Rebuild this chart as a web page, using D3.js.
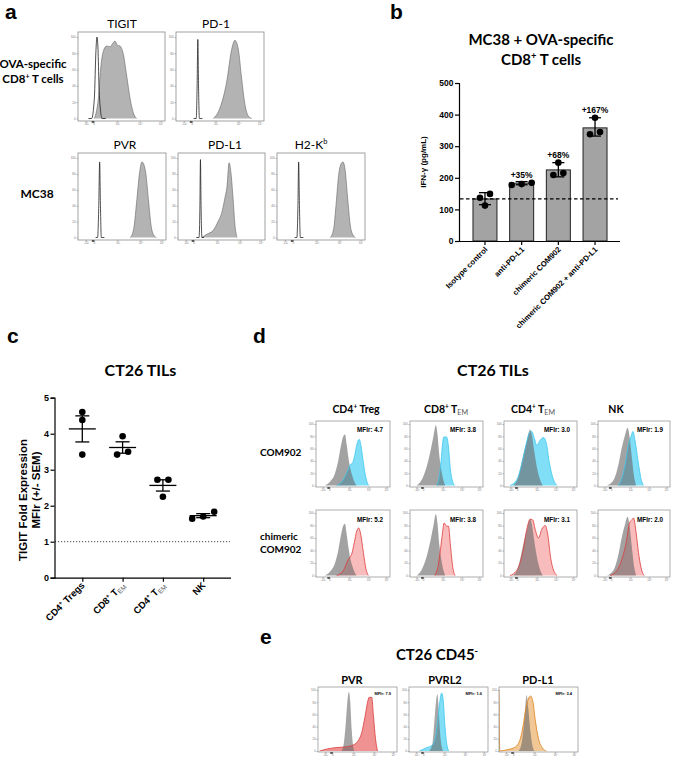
<!DOCTYPE html>
<html><head><meta charset="utf-8">
<script src="https://cdn.jsdelivr.net/npm/d3@7"></script>
<style>body{margin:0;background:#fff} svg{display:block}</style>
</head><body>
<svg id="fig" width="677" height="761"></svg>
<script>
// ================= DATA =================
// shared flow-histogram axis (positions in % of plot width, labels)
const histTickPos = [9, 18, 45, 71, 95];
const histTickLabels = ["-10³", "0", "10³", "10⁴", "10⁵"];
const histYTicks = [0, 20, 40, 60, 80, 100];

// Panel a: [x% , count%]
const aRow1Markers = ["TIGIT", "PD-1"];
const aRow2Markers = ["PVR", "PD-L1", "H2-K"];
const aTigitIso = [[12,0],[15.7,0],[18.8,25],[20.7,85],[21.8,100],[23,85],[24.1,41],[26,9],[27.6,0],[32,0]];
const aTigitStain = [[18.8,0],[23.4,25],[26.4,65],[29.9,85],[33,89],[36.8,88],[39.8,92],[42.5,95],[45.2,90],[48.3,89],[52.1,79],[55.9,53],[59.8,25],[63.6,7],[67.4,0]];
const aPd1Iso = [[20,0],[23,0],[24,40],[24.8,97],[25.6,40],[26.6,0],[30,0]];
const aPd1Stain = [[42.4,0],[50,13],[57.6,45],[63.3,85],[67,96],[70.8,85],[74.6,49],[78.4,17],[82.2,3],[86,0]];
const aPvrIso = [[20,0],[22.3,0],[23.6,40],[24.6,95],[25.5,40],[26.5,0],[30,0]];
const aPvrStain = [[59.5,0],[63.3,11],[67,49],[70,82],[72.7,95],[74.6,92.5],[76.9,82],[80.3,44.6],[83,15.4],[86,3],[89,0]];
const aPdl1Iso = [[21,0],[24.2,0],[25.2,40],[25.8,98],[26.5,40],[27.5,0],[30,0]];
const aPdl1Stain = [[27.3,0],[33,4],[40.5,9],[46,20],[50,30],[53.8,49],[56.4,65],[58.7,94],[61,80],[63.3,49],[65.5,15],[67.8,0]];
const aH2kbIso = [[20,0],[22.6,0],[23.8,40],[24.6,95],[25.5,40],[26.5,0],[30,0]];
const aH2kbStain = [[60.6,0],[64.4,11],[67.4,45],[70,78],[72.7,92.5],[75,95],[77.3,86],[80.3,49],[83.3,15],[86.4,3],[89,0]];

// Panel b
const bCategories = ["Isotype control", "anti-PD-L1", "chimeric COM902", "chimeric COM902 + anti-PD-L1"];
const bMeans = [133, 183, 225, 358];
const bErrLow = [115, 178, 203, 332];
const bErrHigh = [153, 188, 248, 390];
const bPoints = [[149, 112, 137], [177, 184, 180], [248, 209, 215], [390, 338, 345]];
const bLabels = ["", "+35%", "+68%", "+167%"];
const bLabelY = [0, 199, 262, 405];
const bYTicks = [0, 100, 200, 300, 400, 500];

// Panel c
const cCategories = ["CD4+ Tregs", "CD8+ TEM", "CD4+ TEM", "NK"];
const cValues = [[4.6, 4.38, 3.42], [3.93, 3.42, 3.5], [2.72, 2.72, 2.25], [1.83, 1.64, 1.7]];
const cYTicks = [0, 1, 2, 3, 4, 5];
const cRef = 1;

// Panel d
const dColumns = ["CD4+ Treg", "CD8+ TEM", "CD4+ TEM", "NK"];
const dRows = ["COM902", "chimeric COM902"];
const dMfiCom = [4.7, 3.8, 3.0, 1.9];
const dMfiChim = [5.2, 3.8, 3.1, 2.0];
const dGrayTreg = [[12.2,0],[18.9,6],[25.7,20],[30.2,41],[33.3,62],[36.9,80],[39.2,83],[41.4,67],[43.7,46],[45.9,30],[49.5,14],[52.7,4],[55,0]];
const dGrayCD8 = [[9,0],[15.9,9],[22.7,30],[28.2,57],[31.8,78],[35.5,98],[37.7,83],[40,51],[43,25],[46.4,6],[48.2,0]];
const dGrayCD4 = [[12.8,0],[19.7,14],[25.7,46],[31.2,72],[35.8,91],[38,83],[41.3,57],[45,30],[49.5,9],[53.2,0]];
const dGrayNK = [[12.4,0],[21.7,9],[28.6,35],[33.2,62],[37.8,83],[41,94],[43.8,80],[47,46],[50.2,14],[53,0]];
const dCyanTreg = [[27.9,0],[34.7,6],[41.4,20],[45.9,33],[49.5,37],[52.7,51],[55.9,70],[58.6,75],[60.4,67],[63,46],[66.2,20],[69.4,4],[71.2,0]];
const dCyanCD8 = [[36.4,0],[40,14],[42.7,41],[44.5,67],[46.4,79],[50,79],[52.3,67],[55.5,25],[59,4],[61.4,0]];
const dCyanCD4 = [[8.3,0],[17.4,9],[24.3,35],[30.3,67],[34.9,86],[38,88],[41.3,78],[45,65],[48.6,72],[54,78],[57.8,70],[62.4,35],[67.9,9],[72.5,0]];
const dCyanNK = [[28.6,0],[33.2,12],[37.8,35],[42.4,67],[46,80],[48.4,88],[51.6,72],[56.2,35],[60.8,6],[63.1,0]];
const dPinkTreg = [[27.9,0],[37,8],[43.7,26],[48.2,34],[51.8,53],[55,71],[57.7,76],[60.4,66],[64,37],[67.6,10],[70.7,0]];
const dPinkCD8 = [[34,0],[38.6,16],[41.8,42],[44.5,68],[46.8,84],[50,79],[52.7,79],[55.5,47],[59,10],[61.8,0]];
const dPinkCD4 = [[8.3,0],[17.4,8],[25.7,37],[31.2,74],[35.8,90],[39.4,89],[42.7,74],[47.2,60],[51.8,74],[56.4,80],[59.6,68],[64.2,26],[70.2,3],[72.5,0]];
const dPinkNK = [[17,0],[26.3,8],[33.2,26],[39.2,53],[43.8,84],[47,89],[49.3,92],[53,68],[56.2,37],[60.8,8],[64,0]];

// Panel e
const eColumns = ["PVR", "PVRL2", "PD-L1"];
const eMfi = [7.9, 1.6, 3.4];
const ePvrIso = [[29.8,0],[32.8,14],[35.3,47],[37.4,84],[39.1,97],[40.9,79],[42.6,36],[44.7,6],[46,0]];
const ePvrStain = [[2,0],[10.6,3],[19.1,5],[27.7,6],[36.2,7],[44.7,10],[51,17],[55.3,30],[59.6,57],[62.6,79],[64.7,88],[68,88],[70.2,57],[72.8,20],[75.3,0]];
const ePvrl2Iso = [[25.6,0],[29.8,13],[32.2,50],[34.7,87],[36,93],[37.2,77],[38.8,40],[41.3,8],[43,0]];
const ePvrl2Stain = [[13.2,0],[21.5,5],[29.8,10],[33.9,26],[37.2,60],[39.7,87],[41.3,95],[43.4,82],[45.5,40],[48.3,8],[50.4,0]];
const ePdl1Iso = [[25,0],[29,15],[32,50],[35,92],[37,70],[40,30],[43,5],[45,0]];
const ePdl1Stain = [[0,100],[1,0],[10,2],[20,6],[27,20],[31,45],[34,70],[37,85],[40,90],[43,80],[46,50],[50,20],[55,5],[60,0]];

// ================= DRAWING =================
const AR = "'Liberation Sans', Arial, sans-serif";
const CA = "Lato, 'Open Sans', sans-serif";
const svg = d3.select('#fig');
let clipN = 0;

function rich(sel, parts, size) {
  let shift = 0;
  parts.forEach(p => {
    const ts = sel.append('tspan').text(p.t);
    let target = 0;
    if (p.sup) { ts.attr('font-size', size * 0.62); target = -size * 0.38; }
    else if (p.sub) { ts.attr('font-size', size * 0.68); target = size * 0.2; }
    if (p.fill) ts.attr('fill', p.fill);
    if (p.w) ts.attr('font-weight', p.w);
    const dy = target - shift;
    if (dy) ts.attr('dy', dy);
    shift = target;
  });
  return sel;
}
function txt(x, y, s, size, opts = {}) {
  const t = svg.append('text').attr('x', x).attr('y', y)
    .attr('font-family', opts.ff || CA).attr('font-size', size)
    .attr('font-weight', opts.w || 'bold').attr('text-anchor', opts.a || 'middle')
    .attr('fill', opts.fill || '#000');
  if (typeof s === 'string') t.text(s); else rich(t, s, size);
  if (opts.rot) t.attr('transform', `rotate(${opts.rot},${x},${y})`);
  return t;
}
function labelParts(name) {
  const m = name.match(/^(CD\d)\+ (.*)$/);
  if (!m) return [{t: name}];
  const rest = m[2];
  const parts = [{t: m[1]}, {t: '+', sup: true}];
  if (rest.endsWith('EM')) parts.push({t: ' ' + rest.slice(0, -2)}, {t: 'EM', sub: true, w: 'normal', fill: '#555'});
  else parts.push({t: ' ' + rest});
  return parts;
}

function hist(box, curves, o) {
  const [x0, y0, w, h] = box;
  const g = svg.append('g');
  const xs = d3.scaleLinear().domain([0, 100]).range([x0, x0 + w]);
  const ys = d3.scaleLinear().domain([0, 100]).range([y0 + h - o.padB, y0 + o.padT]);
  const id = 'clip' + (clipN++);
  g.append('clipPath').attr('id', id).append('rect').attr('x', x0).attr('y', y0).attr('width', w).attr('height', h);
  const cg = g.append('g').attr('clip-path', `url(#${id})`);
  const area = d3.area().x(d => xs(d[0])).y0(ys(0)).y1(d => ys(d[1])).curve(d3.curveMonotoneX);
  const line = d3.line().x(d => xs(d[0])).y(d => ys(d[1])).curve(d3.curveMonotoneX);
  curves.forEach(c => {
    if (c.fill) cg.append('path').attr('d', area(c.data)).attr('fill', c.fill);
    if (c.stroke) cg.append('path').attr('d', line(c.data)).attr('fill', 'none')
      .attr('stroke', c.stroke).attr('stroke-width', c.sw || 0.8).attr('stroke-linejoin', 'round');
  });
  g.append('rect').attr('x', x0).attr('y', y0).attr('width', w).attr('height', h)
    .attr('fill', 'none').attr('stroke', o.border || '#8a8a8a').attr('stroke-width', 0.8);
  const ax = g.append('g').attr('transform', `translate(0,${y0 + h})`)
    .call(d3.axisBottom(xs).tickValues(histTickPos).tickFormat((d, i) => histTickLabels[i]).tickSize(1.5).tickPadding(0.8));
  const ay = g.append('g').attr('transform', `translate(${x0},0)`)
    .call(d3.axisLeft(ys).tickValues(histYTicks).tickSize(1.5).tickPadding(0.8));
  [ax, ay].forEach(a => {
    a.select('.domain').remove();
    a.selectAll('line').attr('stroke', '#777').attr('stroke-width', 0.5);
    a.selectAll('text').attr('font-size', o.tf || 3).attr('font-family', AR).attr('fill', '#777');
  });
  g.append('rect').attr('x', xs(histTickPos[1]) - 2).attr('y', y0 + h + 0.3).attr('width', 2.5).attr('height', 1.4).attr('fill', '#222');
  if (o.mfi !== undefined) {
    g.append('text').attr('x', x0 + w - o.mfiR).attr('y', y0 + o.mfiY).attr('text-anchor', 'end')
      .attr('font-family', AR).attr('font-weight', 'bold').attr('font-size', o.mfiF)
      .text('MFIr: ' + d3.format('.1f')(o.mfi));
  }
  return g;
}

function dodge(ys, r, d) {
  const idx = ys.map((y, i) => i).sort((a, b) => ys[b] - ys[a]);
  const offs = ys.map(() => 0);
  let cluster = [idx[0]];
  const flush = () => {
    const n = cluster.length;
    cluster.forEach((k, j) => offs[k] = n === 1 ? 0 : (j - (n - 1) / 2) * d);
  };
  for (let k = 1; k < idx.length; k++) {
    const prev = cluster[cluster.length - 1];
    if (Math.abs(ys[idx[k]] - ys[prev]) < 2 * r) cluster.push(idx[k]);
    else { flush(); cluster = [idx[k]]; }
  }
  flush();
  return offs;
}

// ---------- panel letters ----------
[["a", 5, 19], ["b", 390, 19], ["c", 7, 343], ["d", 253, 343], ["e", 260, 644]].forEach(([l, x, y]) =>
  txt(x, y, l, 21, {ff: AR, a: 'start'}));

// ---------- panel a ----------
const aOpen = '#222', aFill = '#b3b3b3', aEdge = '#666';
const aSets1 = [[aTigitIso, aTigitStain], [aPd1Iso, aPd1Stain]];
const aBoxes1 = [[78, 32, 87, 89], [176, 32, 88, 89]];
const aTitleX1 = [122, 216];
aSets1.forEach((s, i) => {
  hist(aBoxes1[i], [{data: s[1], fill: aFill, stroke: aEdge, sw: 0.6}, {data: s[0], stroke: aOpen, sw: 0.8}], {padT: 5, padB: 2.5});
  txt(aTitleX1[i], 28, aRow1Markers[i], 12, {w: 'normal'});
});
const aSets2 = [[aPvrIso, aPvrStain], [aPdl1Iso, aPdl1Stain], [aH2kbIso, aH2kbStain]];
const aBoxes2 = [[78, 153, 88, 87], [178, 153, 87, 87], [277, 153, 88, 87]];
const aTitleX2 = [125, 225, 311];
aSets2.forEach((s, i) => {
  hist(aBoxes2[i], [{data: s[1], fill: aFill, stroke: aEdge, sw: 0.6}, {data: s[0], stroke: aOpen, sw: 0.8}], {padT: 5, padB: 2.5});
  txt(aTitleX2[i], 149, i === 2 ? [{t: aRow2Markers[i]}, {t: 'b', sup: true}] : aRow2Markers[i], 12, {w: 'normal'});
});
txt(33, 68, "OVA-specific", 11.5);
txt(33, 83, [{t: "CD8"}, {t: "+", sup: true}, {t: " T cells"}], 11.5);
txt(37, 198, "MC38", 12);

// ---------- panel b ----------
{
  const yB = d3.scaleLinear().domain([0, 500]).range([241, 83]);
  const xB = d3.scaleBand().domain(bCategories).range([459, 621]).paddingInner(0.346).paddingOuter(0.381);
  const g = svg.append('g');
  txt(541, 45, "MC38 + OVA-specific", 15);
  txt(541, 65, [{t: "CD8"}, {t: "+", sup: true}, {t: " T cells"}], 15);
  g.selectAll('rect.bar').data(bCategories).join('rect').attr('class', 'bar')
    .attr('x', d => xB(d)).attr('width', xB.bandwidth())
    .attr('y', (d, i) => yB(bMeans[i])).attr('height', (d, i) => yB(0) - yB(bMeans[i]))
    .attr('fill', '#a3a3a3').attr('stroke', '#222').attr('stroke-width', 1);
  g.append('line').attr('x1', 460).attr('x2', 618).attr('y1', yB(bMeans[0])).attr('y2', yB(bMeans[0]))
    .attr('stroke', '#000').attr('stroke-width', 1.2).attr('stroke-dasharray', '3.5,2.5');
  bCategories.forEach((c, i) => {
    const cx = xB(c) + xB.bandwidth() / 2;
    g.append('line').attr('x1', cx).attr('x2', cx).attr('y1', yB(bErrLow[i])).attr('y2', yB(bErrHigh[i])).attr('stroke', '#000').attr('stroke-width', 1.3);
    [bErrLow[i], bErrHigh[i]].forEach(v => g.append('line').attr('x1', cx - 6).attr('x2', cx + 6).attr('y1', yB(v)).attr('y2', yB(v)).attr('stroke', '#000').attr('stroke-width', 1.3));
  });
  const r = 3.3;
  bCategories.forEach((c, i) => {
    const cx = xB(c) + xB.bandwidth() / 2;
    const offs = dodge(bPoints[i].map(v => yB(v)), r, 10);
    bPoints[i].forEach((v, j) => g.append('circle').attr('cx', cx + offs[j]).attr('cy', yB(v)).attr('r', r).attr('fill', '#000'));
    if (bLabels[i]) txt(cx, yB(bLabelY[i]), bLabels[i], 8.5, {ff: AR});
  });
  const ay = g.append('g').attr('transform', 'translate(459,0)').call(d3.axisLeft(yB).tickValues(bYTicks).tickSize(4).tickPadding(1.5));
  const ax = g.append('g').attr('transform', 'translate(0,241)').call(d3.axisBottom(xB).tickSize(4).tickFormat(''));
  [ax, ay].forEach(a => {
    a.selectAll('path,line').attr('stroke', '#000').attr('stroke-width', 1.2);
    a.selectAll('text').attr('font-family', AR).attr('font-weight', 'bold').attr('font-size', 8.5);
  });
  ax.select('.domain').attr('d', 'M459,0.5H620');
  bCategories.forEach(c => {
    const cx = xB(c) + xB.bandwidth() / 2;
    txt(cx + 3, 250, c, 7.7, {ff: AR, a: 'end', rot: -45});
  });
  txt(426, 162, "IFN-γ (pg/mL)", 8, {ff: AR, rot: -90});
}

// ---------- panel c ----------
{
  const yC = d3.scaleLinear().domain([0, 5]).range([577.7, 397.7]);
  const xC = d3.scalePoint().domain(cCategories).range([54.5, 231]).padding(0.69);
  const g = svg.append('g');
  txt(140.5, 376, "CT26 TILs", 16);
  g.append('line').attr('x1', 55).attr('x2', 230).attr('y1', yC(cRef)).attr('y2', yC(cRef))
    .attr('stroke', '#444').attr('stroke-width', 1).attr('stroke-dasharray', '1.2,1.8');
  const r = 3.3;
  cCategories.forEach((c, i) => {
    const cx = xC(c);
    const vals = cValues[i];
    const m = d3.mean(vals), sem = d3.deviation(vals) / Math.sqrt(vals.length);
    const offs = dodge(vals.map(v => yC(v)), r, 11);
    vals.forEach((v, j) => g.append('circle').attr('cx', cx + offs[j]).attr('cy', yC(v)).attr('r', r).attr('fill', '#000'));
    g.append('line').attr('x1', cx - 13.5).attr('x2', cx + 13.5).attr('y1', yC(m)).attr('y2', yC(m)).attr('stroke', '#000').attr('stroke-width', 1.3);
    g.append('line').attr('x1', cx).attr('x2', cx).attr('y1', yC(m - sem)).attr('y2', yC(m + sem)).attr('stroke', '#000').attr('stroke-width', 1.3);
    [m - sem, m + sem].forEach(v => g.append('line').attr('x1', cx - 7).attr('x2', cx + 7).attr('y1', yC(v)).attr('y2', yC(v)).attr('stroke', '#000').attr('stroke-width', 1.3));
    txt(cx + 3, 586, labelParts(c), 9.5, {ff: AR, a: 'end', rot: -45});
  });
  const ay = g.append('g').attr('transform', 'translate(54.5,0)').call(d3.axisLeft(yC).tickValues(cYTicks).tickFormat(d3.format('d')).tickSize(4).tickPadding(1.5));
  const ax = g.append('g').attr('transform', 'translate(0,577.7)').call(d3.axisBottom(xC).tickSize(4).tickFormat(''));
  [ax, ay].forEach(a => {
    a.selectAll('path,line').attr('stroke', '#000').attr('stroke-width', 1.2);
    a.selectAll('text').attr('font-family', AR).attr('font-weight', 'bold').attr('font-size', 9);
  });
  ax.select('.domain').attr('d', 'M54.5,0.5H231');
  txt(27, 500, "TIGIT Fold Expression", 11.5, {ff: AR, rot: -90});
  txt(39.5, 490, "MFIr (+/- SEM)", 11.5, {ff: AR, rot: -90});
}

// ---------- panel d ----------
{
  txt(493, 376, "CT26 TILs", 16);
  const colX = [316, 410, 504, 598], colW = [74, 73, 73, 72];
  const titleX = [356, 446, 533, 616];
  const grays = [dGrayTreg, dGrayCD8, dGrayCD4, dGrayNK];
  const cyans = [dCyanTreg, dCyanCD8, dCyanCD4, dCyanNK];
  const pinks = [dPinkTreg, dPinkCD8, dPinkCD4, dPinkNK];
  const grayFill = 'rgba(105,105,105,0.62)';
  dColumns.forEach((c, i) => {
    txt(titleX[i], 413, labelParts(c), 10.5);
    hist([colX[i], 421, colW[i], 66], [
      {data: cyans[i], fill: 'rgba(96,214,245,0.8)'},
      {data: grays[i], fill: grayFill},
      {data: cyans[i], stroke: '#3cc6ee', sw: 0.8}
    ], {padT: 3, padB: 1.5, border: '#999', tf: 3, mfi: dMfiCom[i], mfiR: 7, mfiY: 11, mfiF: 6.3});
    hist([colX[i], 510, colW[i], 67], [
      {data: pinks[i], fill: 'rgba(246,160,160,0.7)'},
      {data: grays[i], fill: grayFill},
      {data: pinks[i], stroke: '#e03a3a', sw: 0.8}
    ], {padT: 3, padB: 1.5, border: '#999', tf: 3, mfi: dMfiChim[i], mfiR: 7, mfiY: 11.5, mfiF: 6.3});
  });
  txt(260, 456, dRows[0], 10, {a: 'start'});
  txt(260, 540, "chimeric", 10, {a: 'start'});
  txt(260, 553, "COM902", 10, {a: 'start'});
}

// ---------- panel e ----------
{
  txt(437, 660, [{t: "CT26 CD45"}, {t: "-", sup: true}], 15);
  const colX = [318, 409, 499], titleX = [352, 445, 538];
  const sets = [
    [{data: ePvrStain, fill: 'rgba(236,110,110,0.75)'}, {data: ePvrIso, fill: 'rgba(105,105,105,0.6)'}, {data: ePvrStain, stroke: '#d63c3c', sw: 0.8}],
    [{data: ePvrl2Stain, fill: 'rgba(96,214,245,0.8)'}, {data: ePvrl2Iso, fill: 'rgba(105,105,105,0.6)'}, {data: ePvrl2Stain, stroke: '#3cc6ee', sw: 0.8}],
    [{data: ePdl1Stain, fill: 'rgba(236,180,115,0.75)'}, {data: ePdl1Iso, fill: 'rgba(105,105,105,0.6)'}, {data: ePdl1Stain, stroke: '#e08a2a', sw: 0.9}]
  ];
  eColumns.forEach((c, i) => {
    txt(titleX[i], 684, c, 11);
    hist([colX[i], 687, 79, 65], sets[i], {padT: 3, padB: 1, border: '#999', tf: 2.8, mfi: eMfi[i], mfiR: 6, mfiY: 8, mfiF: 4});
  });
}
</script></body></html>
